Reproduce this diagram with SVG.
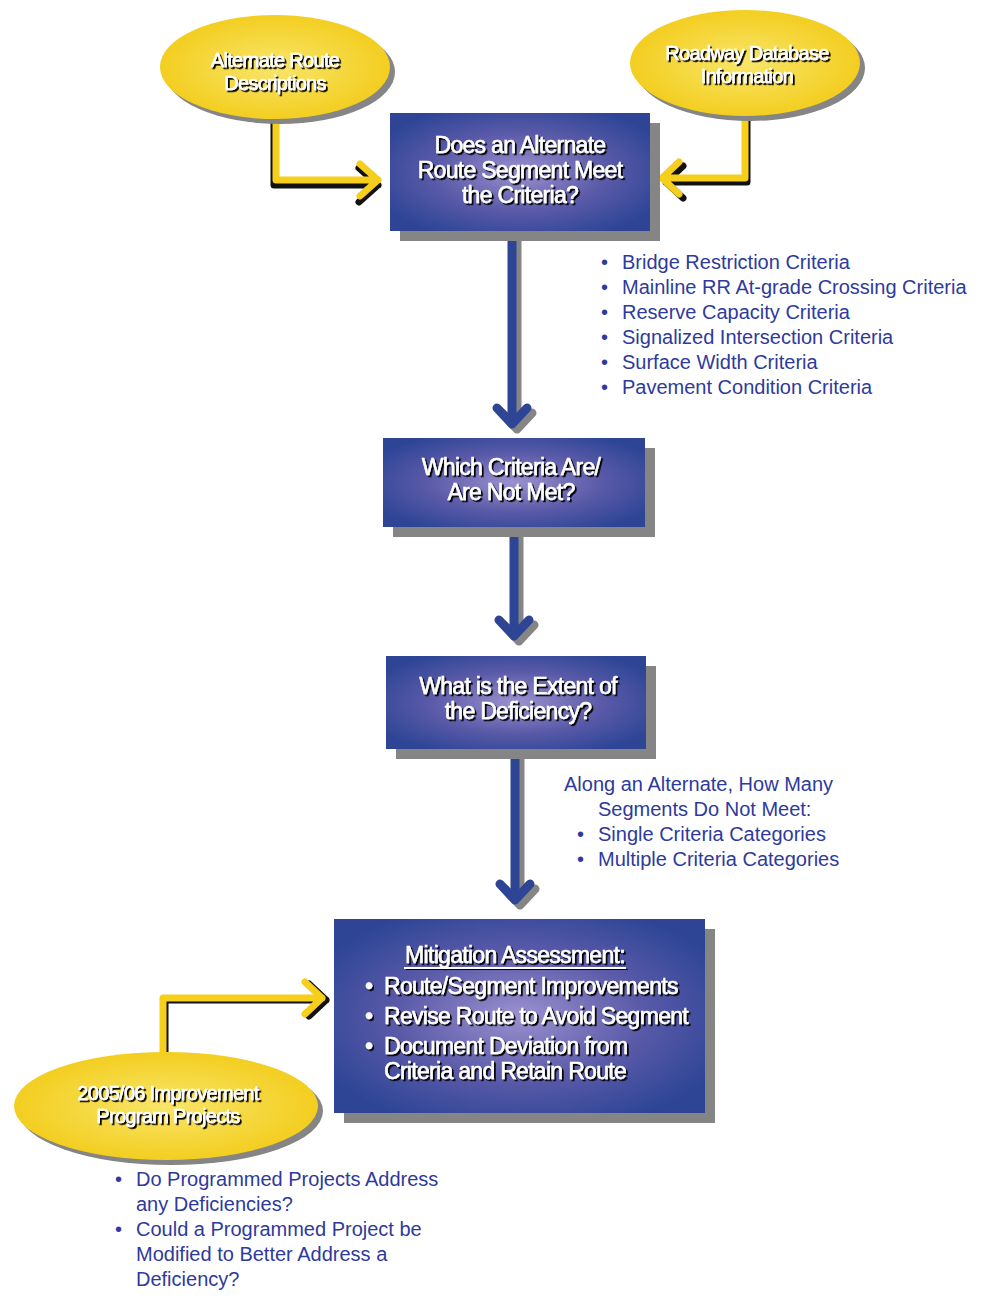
<svg xmlns="http://www.w3.org/2000/svg" width="982" height="1309" viewBox="0 0 982 1309">
<style>
.bt{font-family:"Liberation Sans",Arial,sans-serif;font-size:23px;fill:#fff;stroke:#fff;stroke-width:0.5px;text-anchor:middle;filter:url(#ts);letter-spacing:-0.7px}
.et{font-family:"Liberation Sans",Arial,sans-serif;font-size:20px;fill:#fff;stroke:#fff;stroke-width:0.5px;text-anchor:middle;filter:url(#ts);letter-spacing:-0.7px}
.lt{font-family:"Liberation Sans",Arial,sans-serif;font-size:20px;fill:#2e3a9c}
.box{fill:url(#bg)}
.sh{fill:#858585}
.ell{fill:url(#yg)}
.y{fill:none;stroke:#f5cf1c;stroke-width:7;stroke-linejoin:round;stroke-linecap:round}
.yk{fill:none;stroke:#111;stroke-width:7;stroke-linejoin:round;stroke-linecap:round}
.b{fill:none;stroke:#2e4596;stroke-width:9;stroke-linejoin:round;stroke-linecap:round}
.bk{fill:none;stroke:#858585;stroke-width:9;stroke-linejoin:round;stroke-linecap:round}
</style>
<defs>
<radialGradient id="bg" cx="0.5" cy="0.5" r="0.6">
<stop offset="0" stop-color="#9b91cf"/>
<stop offset="0.55" stop-color="#5a5aa8"/>
<stop offset="1" stop-color="#2e4596"/>
</radialGradient>
<radialGradient id="yg" cx="0.5" cy="0.5" r="0.55">
<stop offset="0" stop-color="#f8e56a"/>
<stop offset="1" stop-color="#f3cc19"/>
</radialGradient>
<filter id="ts" x="-10%" y="-20%" width="120%" height="150%">
<feDropShadow dx="1.8" dy="1.8" stdDeviation="0.3" flood-color="#000" flood-opacity="1"/>
</filter>
</defs>
<rect width="982" height="1309" fill="#fff"/>

<g id="connectors">
<path class="yk" d="M 276 121 V 183 H 380 M 361 166 L 380 183 L 361 200" transform="translate(-2,2)"/>
<path class="y" d="M 276 121 V 180 H 378 M 360 164 L 378 180 L 360 196"/>
<path class="yk" d="M 745 118 V 180 H 664 M 681 164 L 664 180 L 681 196" transform="translate(2,2)"/>
<path class="y" d="M 745 118 V 178 H 662 M 679 162 L 662 178 L 679 194"/>
<path class="yk" d="M 163 1052 V 998 H 324 M 307 982 L 324 998 L 307 1014" transform="translate(2,2)"/>
<path class="y" d="M 163 1052 V 998 H 322 M 305 982 L 322 998 L 305 1014"/>
<path class="bk" d="M 512 232 V 424 M 497 408 L 512 424 L 527 408" transform="translate(5,5)"/>
<path class="b" d="M 512 232 V 424 M 497 408 L 512 424 L 527 408"/>
<path class="bk" d="M 514 528 V 636 M 499 620 L 514 636 L 529 620" transform="translate(5,5)"/>
<path class="b" d="M 514 528 V 636 M 499 620 L 514 636 L 529 620"/>
<path class="bk" d="M 515 750 V 900 M 500 884 L 515 900 L 530 884" transform="translate(5,5)"/>
<path class="b" d="M 515 750 V 900 M 500 884 L 515 900 L 530 884"/>
</g>

<g id="alt-route">
<ellipse class="sh" cx="280" cy="72" rx="115" ry="52"/>
<ellipse class="ell" cx="275" cy="67" rx="115" ry="52"/>
<text class="et" x="275" y="67">Alternate Route</text>
<text class="et" x="275" y="90">Descriptions</text>
</g>

<g id="roadway-db">
<ellipse class="sh" cx="750" cy="68" rx="115" ry="53"/>
<ellipse class="ell" cx="745" cy="63" rx="115" ry="53"/>
<text class="et" x="747" y="60">Roadway Database</text>
<text class="et" x="747" y="83">Information</text>
</g>

<g id="box1">
<rect class="sh" x="400" y="123" width="260" height="118"/>
<rect class="box" x="390" y="113" width="260" height="118"/>
<text class="bt" x="520" y="153">Does an Alternate</text>
<text class="bt" x="520" y="178">Route Segment Meet</text>
<text class="bt" x="520" y="203">the Criteria?</text>
</g>

<g id="criteria-list">
<text class="lt" x="601" y="269">•</text><text class="lt" x="622" y="269">Bridge Restriction Criteria</text>
<text class="lt" x="601" y="294">•</text><text class="lt" x="622" y="294">Mainline RR At-grade Crossing Criteria</text>
<text class="lt" x="601" y="319">•</text><text class="lt" x="622" y="319">Reserve Capacity Criteria</text>
<text class="lt" x="601" y="344">•</text><text class="lt" x="622" y="344">Signalized Intersection Criteria</text>
<text class="lt" x="601" y="369">•</text><text class="lt" x="622" y="369">Surface Width Criteria</text>
<text class="lt" x="601" y="394">•</text><text class="lt" x="622" y="394">Pavement Condition Criteria</text>
</g>

<g id="box2">
<rect class="sh" x="393" y="448" width="262" height="89"/>
<rect class="box" x="383" y="438" width="262" height="89"/>
<text class="bt" x="511" y="475">Which Criteria Are/</text>
<text class="bt" x="511" y="500">Are Not Met?</text>
</g>

<g id="box3">
<rect class="sh" x="396" y="666" width="260" height="93"/>
<rect class="box" x="386" y="656" width="260" height="93"/>
<text class="bt" x="518" y="694">What is the Extent of</text>
<text class="bt" x="518" y="719">the Deficiency?</text>
</g>

<g id="extent-list">
<text class="lt" x="564" y="791">Along an Alternate, How Many</text>
<text class="lt" x="598" y="816">Segments Do Not Meet:</text>
<text class="lt" x="577" y="841">•</text><text class="lt" x="598" y="841">Single Criteria Categories</text>
<text class="lt" x="577" y="866">•</text><text class="lt" x="598" y="866">Multiple Criteria Categories</text>
</g>

<g id="box4">
<rect class="sh" x="344" y="929" width="371" height="194"/>
<rect class="box" x="334" y="919" width="371" height="194"/>
<text class="bt" x="515" y="963">Mitigation Assessment:</text>
<rect x="404" y="967" width="222" height="2" fill="#fff" filter="url(#ts)"/>
<text class="bt" x="365" y="994" style="text-anchor:start">•</text><text class="bt" x="384" y="994" style="text-anchor:start">Route/Segment Improvements</text>
<text class="bt" x="365" y="1024" style="text-anchor:start">•</text><text class="bt" x="384" y="1024" style="text-anchor:start">Revise Route to Avoid Segment</text>
<text class="bt" x="365" y="1054" style="text-anchor:start">•</text><text class="bt" x="384" y="1054" style="text-anchor:start">Document Deviation from</text>
<text class="bt" x="384" y="1079" style="text-anchor:start">Criteria and Retain Route</text>
</g>

<g id="program-projects">
<ellipse class="sh" cx="171" cy="1111" rx="152" ry="54"/>
<ellipse class="ell" cx="166" cy="1106" rx="152" ry="54"/>
<text class="et" x="168" y="1100">2005/06 Improvement</text>
<text class="et" x="168" y="1123">Program Projects</text>
</g>

<g id="program-list">
<text class="lt" x="115" y="1186">•</text><text class="lt" x="136" y="1186">Do Programmed Projects Address</text>
<text class="lt" x="136" y="1211">any Deficiencies?</text>
<text class="lt" x="115" y="1236">•</text><text class="lt" x="136" y="1236">Could a Programmed Project be</text>
<text class="lt" x="136" y="1261">Modified to Better Address a</text>
<text class="lt" x="136" y="1286">Deficiency?</text>
</g>
</svg>
